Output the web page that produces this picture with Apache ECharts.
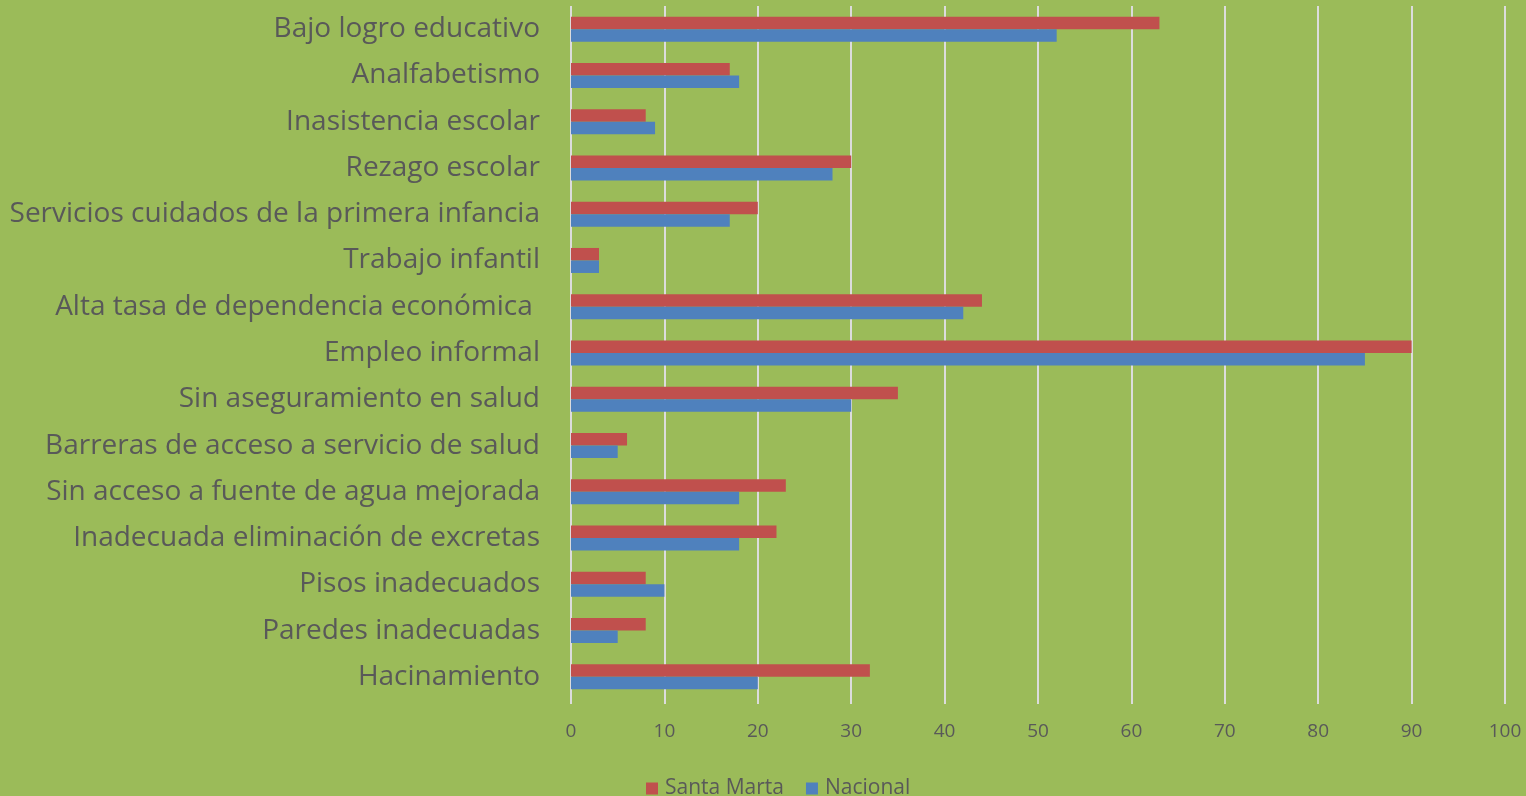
<!DOCTYPE html>
<html>
<head>
<meta charset="utf-8">
<style>
  html, body { margin: 0; padding: 0; background: #9bbb59; }
  #chart { width: 1526px; height: 796px; }
</style>
<script src="https://cdn.jsdelivr.net/npm/echarts@6/dist/echarts.min.js"></script>
</head>
<body>
<div id="chart"></div>
<script>
// categorias de arriba hacia abajo
var categorias = [
    'Bajo logro educativo',
    'Analfabetismo',
    'Inasistencia escolar',
    'Rezago escolar',
    'Servicios cuidados de la primera infancia',
    'Trabajo infantil',
    'Alta tasa de dependencia económica ',
    'Empleo informal',
    'Sin aseguramiento en salud',
    'Barreras de acceso a servicio de salud',
    'Sin acceso a fuente de agua mejorada',
    'Inadecuada eliminación de excretas',
    'Pisos inadecuados',
    'Paredes inadecuadas',
    'Hacinamiento'
];
var santaMarta = [63, 17, 8, 30, 20, 3, 44, 90, 35, 6, 23, 22, 8, 8, 32];
var nacional = [52, 18, 9, 28, 17, 3, 42, 85, 30, 5, 18, 18, 10, 5, 20];
var ejeValores = [0, 100, 10];

var myChart = echarts.init(document.getElementById('chart'));

var option = {
    backgroundColor: '#9bbb59',
    textStyle: { fontFamily: 'Open Sans' },
    grid: { left: 571, right: 21, top: 6, bottom: 96, containLabel: false },
    legend: {
        data: ['Santa Marta', 'Nacional'],
        bottom: -8,
        left: 641,
        itemWidth: 12,
        itemHeight: 12,
        itemGap: 22,
        icon: 'rect',
        textStyle: { color: '#595959', fontSize: 21, fontFamily: 'Open Sans', padding: [0, 0, 0, 2] }
    },
    xAxis: {
        type: 'value',
        min: ejeValores[0],
        max: ejeValores[1],
        interval: ejeValores[2],
        axisLine: { show: false },
        axisTick: { show: true, length: 4, lineStyle: { color: '#dcdcdc', width: 2 } },
        axisLabel: { color: '#595959', fontSize: 19, margin: 22 },
        splitLine: { lineStyle: { color: '#dcdcdc', width: 2 } }
    },
    yAxis: {
        type: 'category',
        data: categorias,
        inverse: true,
        axisLine: { show: false },
        axisTick: { show: false },
        axisLabel: { color: '#595959', fontSize: 28, margin: 31 }
    },
    series: [
        {
            name: 'Santa Marta',
            type: 'bar',
            data: santaMarta,
            barWidth: 12.5,
            barGap: '0%',
            itemStyle: { color: '#c0504d' }
        },
        {
            name: 'Nacional',
            type: 'bar',
            data: nacional,
            barWidth: 12.5,
            barGap: '0%',
            itemStyle: { color: '#4f81bd' }
        }
    ]
};

myChart.setOption(option);
</script>
</body>
</html>
